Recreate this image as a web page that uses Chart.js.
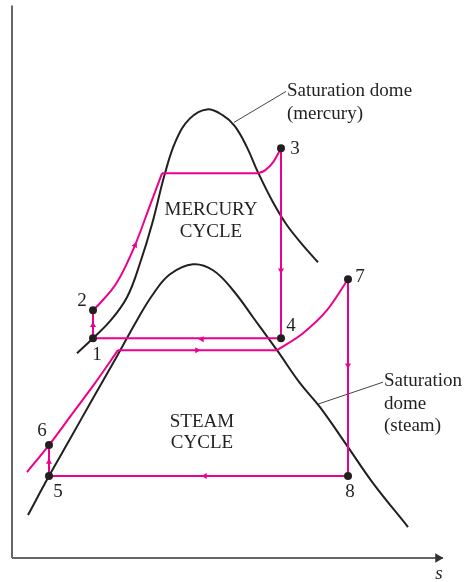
<!DOCTYPE html>
<html>
<head>
<meta charset="utf-8">
<script src="https://cdn.jsdelivr.net/npm/chart.js@4.4.1/dist/chart.umd.min.js"></script>
<style>
    html, body { margin: 0; padding: 0; background: #fff; }
    #wrap { width: 471px; height: 582px; }
</style>
</head>
<body>
<div id="wrap"><canvas id="tsChart" width="471" height="582"></canvas></div>
<script>
// T-s sketch of a mercury/steam binary cycle.
// s (x) and T (y) are arbitrary drawing units.

var mercuryDome = [ [65,205], [81,220], [98,237], [115,261], [128,295], [140,334], [153,385], [164,418], [178,440], [195,449], [211,443], [223,432], [235,411], [246,386], [261,356], [275,333], [291,313], [306,296] ];
var steamDome = [ [16,43], [37,82], [58,119], [81,160], [105,202], [125,238], [141,264], [158,284], [181,294], [201,288], [221,268], [241,241], [265,208], [288,175], [308,151], [336,111], [361,75], [396,31] ];

// mercury cycle 1-2-3-4
var mercuryPump = [ [81,220], [81,248] ];
var mercuryHeating = [ [81,248], [88,255], [105,276], [123,313], [138,353], [150,385] ];
var mercuryBoiling = [ [150,385], [246,385] ];
var mercurySuperheat = [ [246,385], [253,388], [261,396], [269,410] ];
var mercuryTurbine = [ [269,410], [269,220] ];
var mercuryCondenser = [ [269,220], [81,220] ];

// steam cycle 5-6-7-8
var steamPump = [ [37,82], [37,113] ];
var steamHeating = [ [15,86], [37,113], [60,144], [83,175], [106,208] ];
var steamBoiling = [ [106,208], [265,208] ];
var steamSuperheat = [ [265,208], [291,225], [315,248], [336,279] ];
var steamTurbine = [ [336,279], [336,82] ];
var steamCondenser = [ [336,82], [37,82] ];

var statePoints = [ [81,220], [81,248], [269,410], [269,220], [37,82], [37,113], [336,279], [336,82] ];
var stateNames = [ '1', '2', '3', '4', '5', '6', '7', '8' ];
var stateNameAt = [ [85,203], [70,257], [283,409], [279,232], [46,66], [30,127], [348,281], [338,66] ];

// flow arrows: s, T, heading in degrees (0 = up)
var flowArrows = [ [81,233,0], [123,313,23], [269,288,180], [190,219,270], [37,96,0], [185,208,90], [336,193,180], [193,82,270] ];

var axisT = [ [0,553], [0,0] ];
var axisS = [ [0,0], [431,0] ];

var domeNotes = [
    [ 'Saturation dome', 275, 467, 'left' ],
    [ '(mercury)', 275, 444, 'left' ],
    [ 'Saturation', 372, 177, 'left' ],
    [ 'dome', 372, 154, 'left' ],
    [ '(steam)', 372, 132, 'left' ],
    [ 'MERCURY', 199, 348, 'center' ],
    [ 'CYCLE', 199, 326, 'center' ],
    [ 'STEAM', 190, 136, 'center' ],
    [ 'CYCLE', 190, 115, 'center' ]
];
var mercuryLeader = [ [274,467], [222,436] ];
var steamLeader = [ [371,176], [306,154] ];

var PINK = '#ec008c';
var INK = '#231f20';

function pts ( list )
{
    return list.map( function ( p ) { return { x: p[ 0 ], y: p[ 1 ] }; } );
}

function pinkLine ( list, curved )
{
    return {
        data: pts( list ),
        showLine: true,
        borderColor: PINK,
        borderWidth: 2,
        pointRadius: 0,
        tension: curved ? 0.4 : 0,
        cubicInterpolationMode: curved ? 'monotone' : 'default',
        clip: false
    };
}

function blackLine ( list, width, colour, tension )
{
    return {
        data: pts( list ),
        showLine: true,
        borderColor: colour || INK,
        borderWidth: width,
        pointRadius: 0,
        tension: tension || 0,
        clip: false
    };
}

// labels and state numbers go on top of the marks
var textPlugin = {
    id: 'sketchText',
    afterDatasetsDraw: function ( chart )
    {
        var ctx = chart.ctx;
        var xs = chart.scales.x;
        var ys = chart.scales.y;
        ctx.save();
        ctx.fillStyle = INK;
        ctx.textBaseline = 'middle';
        ctx.font = '19px "Liberation Serif"';

        domeNotes.forEach( function ( n )
        {
            ctx.textAlign = n[ 3 ];
            ctx.fillText( n[ 0 ], xs.getPixelForValue( n[ 1 ] ), ys.getPixelForValue( n[ 2 ] ) );
        } );

        ctx.textAlign = 'center';
        stateNames.forEach( function ( name, i )
        {
            ctx.fillText( name, xs.getPixelForValue( stateNameAt[ i ][ 0 ] ), ys.getPixelForValue( stateNameAt[ i ][ 1 ] ) );
        } );

        // axis name
        ctx.font = 'italic 19px "Liberation Serif"';
        ctx.fillText( 's', xs.getPixelForValue( 427 ), ys.getPixelForValue( -16 ) );
        ctx.restore();
    }
};

var canvas = document.getElementById( 'tsChart' );

new Chart( canvas.getContext( '2d' ), {
    type: 'scatter',
    data: {
        datasets: [
            {
                data: pts( statePoints ),
                pointRadius: 4,
                pointBackgroundColor: INK,
                pointBorderWidth: 0,
                clip: false
            },
            {
                data: pts( flowArrows ),
                pointStyle: 'triangle',
                pointRotation: flowArrows.map( function ( a ) { return a[ 2 ]; } ),
                pointRadius: 3.5,
                pointBackgroundColor: PINK,
                pointBorderWidth: 0,
                clip: false
            },
            {
                data: [ { x: 426, y: 0 } ],
                pointStyle: 'triangle',
                pointRotation: 90,
                pointRadius: 5.5,
                pointBackgroundColor: '#333',
                pointBorderWidth: 0,
                clip: false
            },
            pinkLine( mercuryPump, false ),
            pinkLine( mercuryHeating, true ),
            pinkLine( mercuryBoiling, false ),
            pinkLine( mercurySuperheat, true ),
            pinkLine( mercuryTurbine, false ),
            pinkLine( mercuryCondenser, false ),
            pinkLine( steamPump, false ),
            pinkLine( steamHeating, true ),
            pinkLine( steamBoiling, false ),
            pinkLine( steamSuperheat, true ),
            pinkLine( steamTurbine, false ),
            pinkLine( steamCondenser, false ),
            blackLine( mercuryDome, 2, INK, 0.4 ),
            blackLine( steamDome, 2, INK, 0.4 ),
            blackLine( mercuryLeader, 1, '#444' ),
            blackLine( steamLeader, 1, '#444' ),
            blackLine( axisT, 2, '#666' ),
            blackLine( axisS, 1.5, '#333' )
        ]
    },
    options: {
        responsive: false,
        animation: false,
        events: [],
        layout: {
            padding: { left: 12, right: 28, top: 5, bottom: 24 }
        },
        plugins: {
            legend: { display: false },
            tooltip: { enabled: false }
        },
        scales: {
            x: { type: 'linear', min: 0, max: 431, display: false },
            y: { type: 'linear', min: 0, max: 553, display: false }
        }
    },
    plugins: [ textPlugin ]
} );
</script>
</body>
</html>
